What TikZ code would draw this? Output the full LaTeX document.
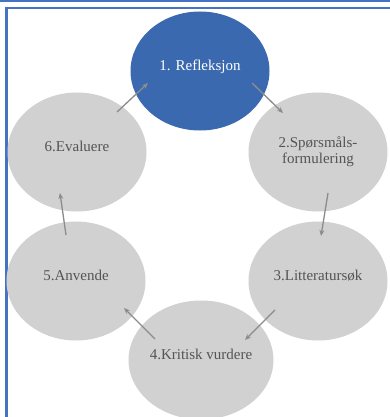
\documentclass[tikz,border=0pt]{standalone}
\usepackage{fontspec}
\setmainfont{Liberation Serif}
\usetikzlibrary{arrows.meta,calc,shapes.geometric}
\definecolor{framblue}{rgb}{0.27, 0.45, 0.77}
\definecolor{stepblue}{rgb}{0.23, 0.41, 0.69}
\definecolor{stepgray}{rgb}{0.82, 0.82, 0.82}
\definecolor{textgray}{rgb}{0.33, 0.33, 0.33}
\definecolor{arrowgray}{rgb}{0.55, 0.55, 0.55}

\begin{document}
\begin{tikzpicture}[x=1pt,y=-1pt,
  stepcircle/.style={ellipse,fill=stepgray,minimum width=139pt,minimum height=119pt,
    inner sep=0pt,text=textgray,align=center,text depth=11pt,
    font=\fontsize{15}{16}\selectfont},
  arr/.style={draw=arrowgray,line width=1.3pt,-{Stealth[length=6pt,width=5pt]}}]
  \useasboundingbox (0,0) rectangle (390,417);
  \fill[white] (0,0) rectangle (390,417);
  % frame
  \fill[framblue] (0,0) rectangle (390,1.6);
  \fill[framblue] (5,7.5) rectangle (390,9.5);
  \fill[framblue] (5,7.5) rectangle (7.5,417);

  \node[stepcircle,fill=stepblue,text=white] (n1) at (200,71) {1. Refleksjon};
  \node[stepcircle,text depth=3pt] (n2) at (318,152) {2.Spørsmåls-\\formulering};
  \node[stepcircle] (n3) at (318,281) {3.Litteratursøk};
  \node[stepcircle] (n4) at (201,360) {4.Kritisk vurdere};
  \node[stepcircle] (n5) at (76,281) {5.Anvende};
  \node[stepcircle] (n6) at (77,152) {6.Evaluere};

  \draw[arr] ($(n6)+(40,-40)$) -- ($(n1)+(-52,12)$);
  \draw[arr] ($(n1)+(52,12)$) -- ($(n2)+(-35,-39)$);
  \draw[arr] ($(n2)+(10,41)$) -- ($(n3)+(3,-45)$);
  \draw[arr] ($(n3)+(-43,29)$) -- ($(n4)+(44,-20)$);
  \draw[arr] ($(n4)+(-46,-21)$) -- ($(n5)+(48,27)$);
  \draw[arr] ($(n5)+(-10,-46)$) -- ($(n6)+(-17,41)$);
\end{tikzpicture}
\end{document}
